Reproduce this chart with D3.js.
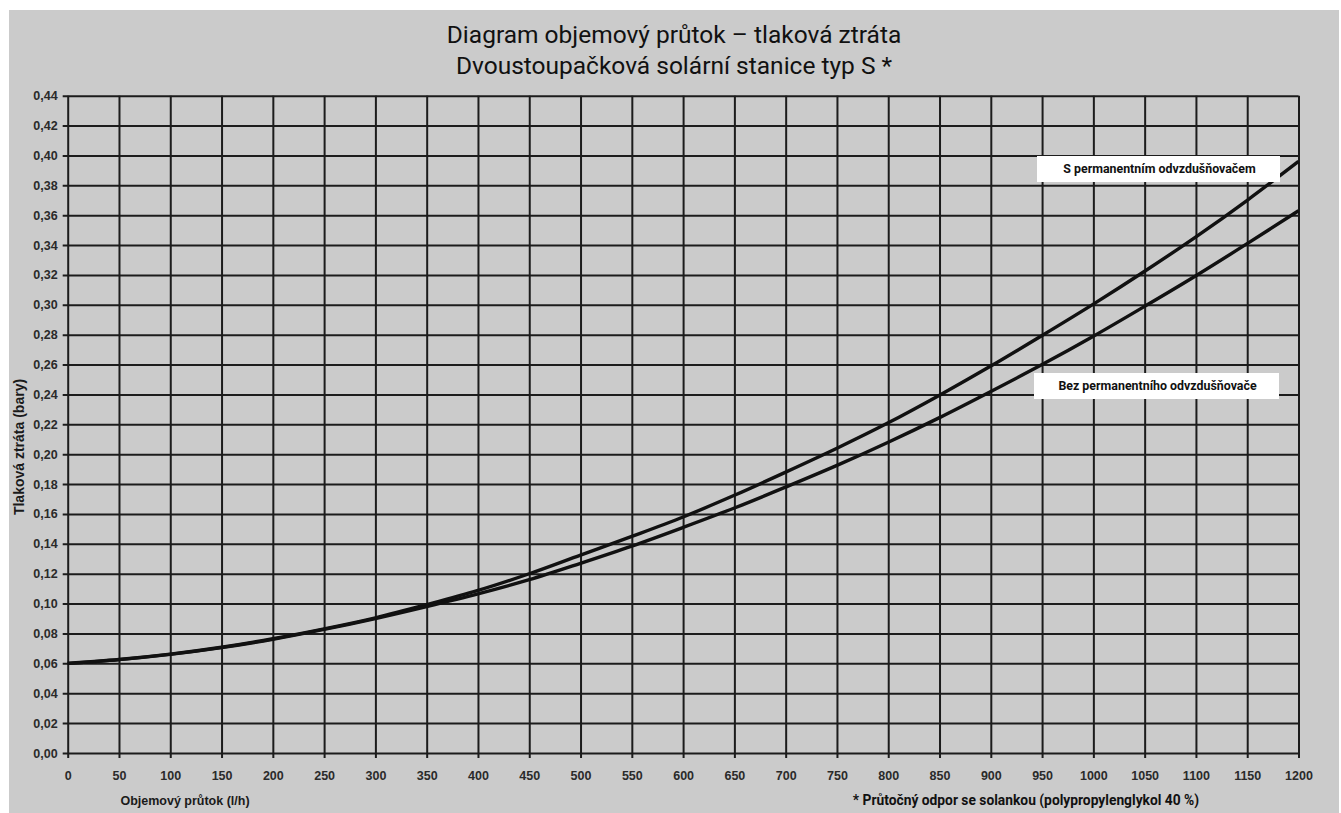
<!DOCTYPE html>
<html>
  <head>
    <meta charset="utf-8">
    <title>Diagram objemový průtok – tlaková ztráta</title>
    <script src="https://d3js.org/d3.v7.min.js"></script>
    <style>
      body { margin: 0; background: #fff; }
      .narrow { font-family: "Liberation Sans Narrow", "Arial Narrow", "Liberation Sans", Arial, sans-serif; font-weight: bold; }
      .din { font-family: Roboto, "Noto Sans", sans-serif; }
    </style>
  </head>
  <body>
    <div id="vis"></div>
    <script>
      // flow (l/h)
      var flow = [0, 50, 100, 150, 200, 250, 300, 350, 400, 450, 500, 550, 600,
                  650, 700, 750, 800, 850, 900, 950, 1000, 1050, 1100, 1150, 1200];
      // pressure loss (bar) with permanent deaerator
      var withDeaerator = [0.0600, 0.0626, 0.0662, 0.0708, 0.0765, 0.0831, 0.0905, 0.0993, 0.1088, 0.1200,
                           0.1325, 0.1450, 0.1580, 0.1725, 0.1880, 0.2040, 0.2210, 0.2395, 0.2590, 0.2795,
                           0.3005, 0.3225, 0.3455, 0.3700, 0.3960];
      // pressure loss (bar) without permanent deaerator
      var withoutDeaerator = [0.0600, 0.0625, 0.0660, 0.0705, 0.0761, 0.0827, 0.0900, 0.0980, 0.1065, 0.1160,
                              0.1270, 0.1385, 0.1510, 0.1640, 0.1780, 0.1925, 0.2080, 0.2245, 0.2420, 0.2600,
                              0.2790, 0.2990, 0.3195, 0.3410, 0.3630];
      var xTicks = [0, 50, 100, 150, 200, 250, 300, 350, 400, 450, 500, 550, 600,
                    650, 700, 750, 800, 850, 900, 950, 1000, 1050, 1100, 1150, 1200];
      var yTicks = [0, 0.02, 0.04, 0.06, 0.08, 0.10, 0.12, 0.14, 0.16, 0.18, 0.20, 0.22,
                    0.24, 0.26, 0.28, 0.30, 0.32, 0.34, 0.36, 0.38, 0.40, 0.42, 0.44];
      var titleLines = ["Diagram objemový průtok – tlaková ztráta", "Dvoustoupačková solární stanice typ S *"];
      var seriesNames = ["S permanentním odvzdušňovačem", "Bez permanentního odvzdušňovače"];

      (function () {
        var width = 1341;
        var height = 813;
        var pLeft = 67.7, pRight = 1298.5, pTop = 95.7, pBottom = 753;

        var svg = d3.select("#vis")
          .append("svg")
          .attr("width", width)
          .attr("height", height);

        svg.append("rect")
          .attr("x", 9).attr("y", 10)
          .attr("width", 1330).attr("height", 803)
          .attr("fill", "#cbcbcb");

        var x = d3.scaleLinear().domain([0, 1200]).range([pLeft, pRight]);
        var y = d3.scaleLinear().domain([0, 0.44]).range([pBottom, pTop]);

        // grid + ticks
        var gy = svg.append("g")
          .attr("class", "narrow")
          .attr("transform", "translate(" + (pLeft - 5) + ",0)")
          .call(d3.axisLeft(y).tickValues(yTicks).tickSize(-(pRight - pLeft + 5)).tickSizeOuter(0).tickPadding(5)
            .tickFormat(function (d) { return d3.format(".2f")(d).replace(".", ","); }));
        var gx = svg.append("g")
          .attr("class", "narrow")
          .attr("transform", "translate(0," + (pBottom + 5) + ")")
          .call(d3.axisBottom(x).tickValues(xTicks).tickSize(-(pBottom - pTop + 5)).tickSizeOuter(0).tickPadding(13)
            .tickFormat(d3.format("d")));

        [gx, gy].forEach(function (g) {
          g.select(".domain").remove();
          g.selectAll(".tick line").attr("stroke", "#1c1c1c").attr("stroke-width", 2);
          g.selectAll(".tick text").attr("fill", "#2a2a2a").style("font-size", "12.5px");
        });
        gx.selectAll(".tick text").attr("dy", "0.71em");

        // curves
        var line = d3.line()
          .x(function (d) { return x(d[0]); })
          .y(function (d) { return y(d[1]); })
          .curve(d3.curveCatmullRom);

        [withDeaerator, withoutDeaerator].forEach(function (s) {
          svg.append("path")
            .datum(flow.map(function (f, i) { return [f, s[i]]; }))
            .attr("d", line)
            .attr("fill", "none")
            .attr("stroke", "#111")
            .attr("stroke-width", 3.4);
        });

        // curve labels
        var boxes = [
          { x: 1037, y: 156, w: 243, h: 26 },
          { x: 1034, y: 373, w: 245, h: 26 }
        ];
        boxes.forEach(function (b, i) {
          svg.append("rect").attr("x", b.x).attr("y", b.y).attr("width", b.w).attr("height", b.h).attr("fill", "#fff");
          svg.append("text")
            .attr("class", "din")
            .attr("x", b.x + b.w / 2 + 1).attr("y", b.y + b.h / 2)
            .attr("dy", "0.35em")
            .attr("text-anchor", "middle")
            .style("font-size", "12.4px").style("font-weight", "bold")
            .attr("fill", "#111")
            .text(seriesNames[i]);
        });

        // title
        svg.selectAll(".title")
          .data(titleLines)
          .enter()
          .append("text")
          .attr("class", "din title")
          .attr("x", 674)
          .attr("y", function (d, i) { return 43 + i * 31; })
          .attr("text-anchor", "middle")
          .style("font-size", "24.5px")
          .attr("fill", "#111")
          .text(function (d) { return d; });

        svg.append("text")
          .attr("class", "narrow")
          .attr("transform", "translate(24,447) rotate(270)")
          .attr("text-anchor", "middle")
          .style("font-size", "14px")
          .attr("fill", "#1a1a1a")
          .text("Tlaková ztráta (bary)");

        svg.append("text")
          .attr("class", "narrow")
          .attr("x", 185).attr("y", 805)
          .attr("text-anchor", "middle")
          .style("font-size", "12.5px")
          .attr("fill", "#1a1a1a")
          .text("Objemový průtok (l/h)");

        svg.append("text")
          .attr("class", "din")
          .attr("x", 1026).attr("y", 805)
          .attr("text-anchor", "middle")
          .style("font-size", "13.8px").style("font-weight", "bold")
          .attr("fill", "#111")
          .text("* Průtočný odpor se solankou (polypropylenglykol 40 %)");
      })();
    </script>
  </body>
</html>
